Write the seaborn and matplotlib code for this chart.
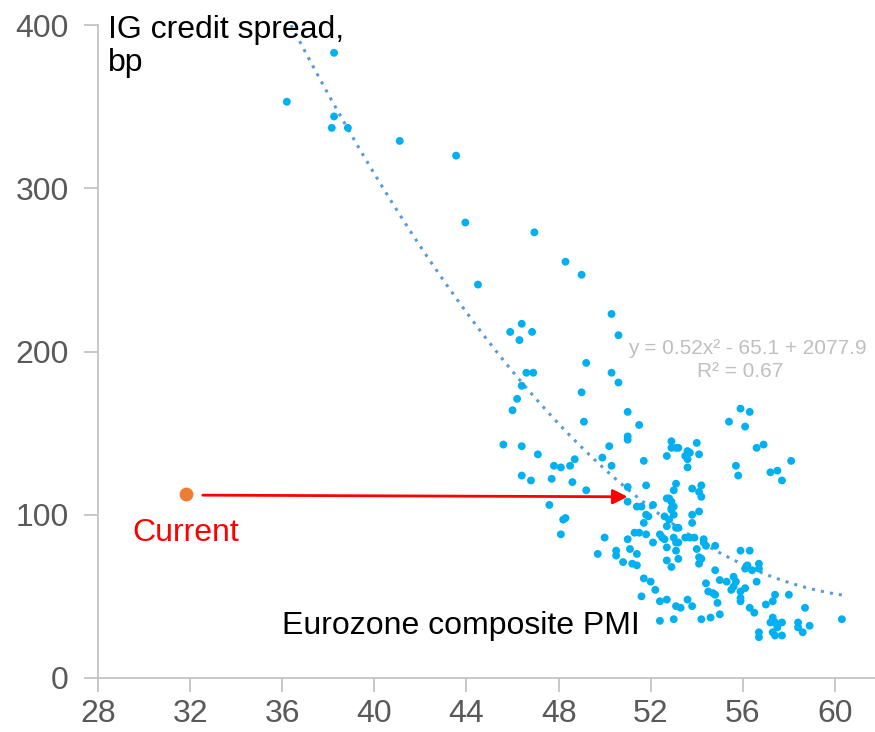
import numpy as np
import pandas as pd
import matplotlib
matplotlib.use("Agg")
import matplotlib.pyplot as plt
import seaborn as sns

# Eurozone composite PMI vs IG credit spread (bp)
pmi = [36.2, 38.25, 38.15, 38.25, 38.85, 41.1, 43.55, 43.95, 44.5, 46.95, 48.3, 49.0,
       50.3, 50.6, 45.9, 46.4, 46.85, 46.3, 49.2, 46.6, 46.9, 50.3, 50.6, 46.4, 46.2, 49.0,
       46.0, 51.0, 49.1, 51.5, 51.0, 51.0, 45.6, 46.4, 50.2, 47.1, 49.9, 48.7, 47.8, 48.1,
       48.5, 50.3, 51.7, 46.4, 46.8, 47.7, 48.6, 49.2, 51.8, 51.0, 51.0, 47.6, 48.2, 48.3,
       48.1, 50.0, 49.7, 50.5, 50.5, 50.8, 51.2, 51.4, 51.0, 51.1, 51.4, 51.3, 51.5, 51.7,
       52.0, 52.2, 51.6, 52.4, 52.7, 53.1, 52.4, 53.0, 51.4, 51.6, 51.8, 51.7, 52.1, 51.9,
       52.7, 53.0, 53.1, 52.9, 52.9, 53.0, 52.6, 52.8, 52.7, 53.1, 52.9, 52.9, 52.7, 53.1,
       51.8, 52.1, 52.4, 52.6, 52.7, 53.0, 53.1, 52.7, 52.9, 55.9, 56.3, 55.4, 56.1, 53.2,
       54.0, 53.6, 53.7, 53.5, 53.6, 53.6, 54.1, 56.6, 56.9, 55.7, 55.8, 57.2, 57.5, 57.7,
       58.1, 53.8, 54.2, 54.1, 54.2, 52.8, 53.0, 52.9, 53.8, 54.1, 53.8, 53.2, 52.5, 53.1,
       53.2, 53.5, 53.7, 53.9, 54.3, 54.3, 54.4, 54.8, 54.0, 54.1, 54.2, 54.1, 53.2, 55.9,
       56.3, 54.8, 56.1, 56.2, 56.7, 56.7, 56.4, 56.6, 54.4, 55.0, 55.3, 55.6, 55.7, 54.5,
       54.7, 54.8, 55.5, 55.6, 55.9, 56.1, 55.9, 55.9, 57.4, 57.3, 57.0, 58.0, 58.7, 54.9,
       53.3, 53.6, 53.8, 56.3, 56.5, 55.0, 54.6, 54.2, 57.3, 57.2, 57.4, 57.7, 57.5, 57.3,
       57.4, 56.7, 56.7, 57.7, 58.4, 58.4, 58.6, 58.9, 60.3]
spread = [353, 383, 337, 344, 337, 329, 320, 279, 241, 273, 255, 247,
          223, 210, 212, 217, 212, 207, 193, 187, 187, 187, 181, 179, 171, 175,
          164, 163, 157, 155, 148, 146, 143, 142, 142, 137, 135, 134, 130, 129,
          130, 130, 133, 124, 121, 122, 120, 115, 118, 117, 108, 106, 97, 98,
          88, 86, 76, 78, 75, 71, 70, 69, 85, 79, 76, 89, 89, 61,
          59, 54, 50, 47, 48, 44, 35, 36, 105, 105, 100, 95, 106, 99,
          110, 115, 119, 108, 104, 100, 99, 97, 93, 92, 145, 141, 136, 141,
          88, 83, 88, 85, 80, 86, 78, 72, 68, 165, 163, 157, 154, 141,
          144, 139, 138, 136, 134, 129, 137, 141, 143, 130, 124, 126, 127, 121,
          133, 116, 118, 114, 111, 110, 105, 103, 100, 102, 95, 92, 86, 83,
          83, 86, 86, 86, 85, 83, 81, 81, 79, 74, 73, 70, 73, 78,
          78, 66, 67, 69, 70, 67, 66, 59, 58, 60, 59, 62, 59, 53,
          52, 51, 54, 56, 53, 55, 49, 47, 51, 47, 45, 51, 43, 46,
          43, 48, 44, 43, 40, 39, 37, 36, 37, 34, 34, 34, 31, 28,
          26, 28, 25, 26, 34, 31, 28, 32, 36]

current_pmi = 31.8
current_spread = 113
implied_pmi = 51.0

df = pd.DataFrame({"pmi": pmi, "spread": spread})

sns.set_style("white")
plt.rcParams["font.family"] = ["Liberation Sans", "DejaVu Sans"]

fig = plt.figure(figsize=(8.75, 7.32), dpi=100)
ax = fig.add_axes([0.112, 0.0738, 0.888, 0.892])

sns.scatterplot(data=df, x="pmi", y="spread", color="#00B0F0", s=32,
                edgecolor="none", ax=ax, zorder=3)
sns.regplot(data=df, x="pmi", y="spread", order=2, ci=None, scatter=False, ax=ax,
            line_kws=dict(color="#5B9BD5", lw=2.2, linestyle=(0, (1, 2))))

# current reading and arrow to implied PMI
ax.scatter([current_pmi], [current_spread], color="#ED7D31", s=80, zorder=4)
ax.annotate("", xy=(implied_pmi, current_spread - 2), xytext=(current_pmi + 0.75, current_spread - 1),
            arrowprops=dict(arrowstyle="-|>", color="red", lw=2, mutation_scale=22,
                            shrinkA=0, shrinkB=0), zorder=5)
ax.text(current_pmi, 89, "Current", color="red", fontsize=23, ha="center", va="center")

ax.text(28.45, 406, "IG credit spread,\nbp", fontsize=23, va="top", ha="left",
        linespacing=1.1, color="black")
ax.text(36.0, 32, "Eurozone composite PMI", fontsize=23, va="center", ha="left", color="black")
ax.text(51.0, 202, "y = 0.52x² - 65.1 + 2077.9", fontsize=15, color="#BFBFBF",
        va="center", ha="left")
ax.text(55.9, 188, "R² = 0.67", fontsize=15, color="#BFBFBF", va="center", ha="center")

ax.set_xlim(28, 61.74)
ax.set_ylim(0, 400)
ax.set_xticks(range(28, 61, 4))
ax.set_yticks(range(0, 401, 100))
ax.set_xlabel("")
ax.set_ylabel("")
for side in ["top", "right"]:
    ax.spines[side].set_visible(False)
for side in ["left", "bottom"]:
    ax.spines[side].set_color("#BFBFBF")
    ax.spines[side].set_linewidth(1.2)
ax.tick_params(axis="both", which="major", direction="out", length=10, width=1.2,
               color="#BFBFBF", labelsize=23, labelcolor="#595959", left=True, bottom=True)
ax.tick_params(axis="x", pad=5)
ax.tick_params(axis="y", pad=11)

fig.savefig("out.png", dpi=100)
